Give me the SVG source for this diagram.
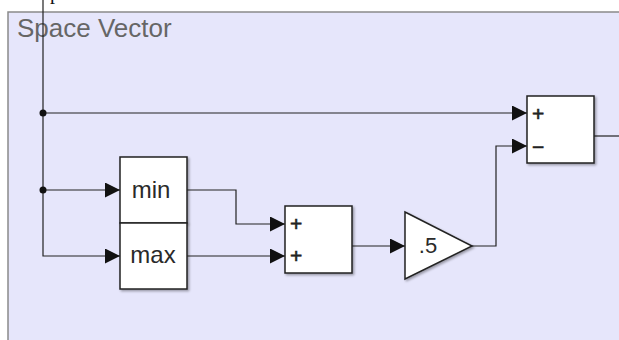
<svg xmlns="http://www.w3.org/2000/svg" width="619" height="340" viewBox="0 0 619 340">
<defs>
<style>
.blk{fill:#fff;stroke:#222;stroke-width:1.5;filter:url(#sh)}
.ln{fill:none;stroke:#222;stroke-width:1.2}
.lbl{font-family:"Liberation Sans",Arial,sans-serif;fill:#2a2a2a}
.sgn{font-family:"Liberation Sans",Arial,sans-serif;fill:#222;stroke:#222;stroke-width:0.6;font-size:21px}
</style>
<filter id="sh" x="-20%" y="-20%" width="150%" height="150%">
<feDropShadow dx="1.5" dy="1.5" stdDeviation="1.2" flood-color="#000" flood-opacity="0.35"/>
</filter>
<marker id="ar" viewBox="0 0 10 10" refX="10" refY="5" markerWidth="15" markerHeight="15" markerUnits="userSpaceOnUse" orient="auto">
<path d="M0,0 L10,5 L0,10 z" fill="#111"/>
</marker>
</defs>
<rect width="619" height="340" fill="#fff"/>
<g id="subsystem">
<rect x="8" y="12" width="625" height="340" fill="#e6e6fb" stroke="#8a8a8a" stroke-width="1.5"/>
<text x="17" y="37" font-family="'Liberation Sans',Arial,sans-serif" font-size="26" fill="#666">Space Vector</text>
</g>
<text x="50" y="-1" font-family="'Liberation Serif',serif" font-size="20" fill="#111">p</text>
<g id="connectors">
<path class="ln" d="M43,0 V256 H120" marker-end="url(#ar)"/>
<path class="ln" d="M43,113 H527" marker-end="url(#ar)"/>
<path class="ln" d="M43,190 H120" marker-end="url(#ar)"/>
<path class="ln" d="M187,190 H236 V224 H285" marker-end="url(#ar)"/>
<path class="ln" d="M187,256 H285" marker-end="url(#ar)"/>
<path class="ln" d="M352,246 H405" marker-end="url(#ar)"/>
<path class="ln" d="M472,246 H496 V146 H527" marker-end="url(#ar)"/>
<path class="ln" d="M594,136 H619"/>
<circle cx="43" cy="113" r="3.5" fill="#111"/>
<circle cx="43" cy="190" r="3.5" fill="#111"/>
</g>
<g id="min">
<rect class="blk" x="120" y="157" width="67" height="66"/>
<text class="lbl" x="151" y="198" font-size="24" text-anchor="middle">min</text>
</g>
<g id="max">
<rect class="blk" x="120" y="223" width="67" height="66"/>
<text class="lbl" x="153" y="263" font-size="24" text-anchor="middle">max</text>
</g>
<g id="sum1">
<rect class="blk" x="285" y="206" width="67" height="67"/>
<text class="sgn" x="290" y="231">+</text>
<text class="sgn" x="290" y="263">+</text>
</g>
<g id="gain">
<polygon class="blk" points="405,212 472,246 405,279"/>
<text class="lbl" x="428" y="253" font-size="22" text-anchor="middle">.5</text>
</g>
<g id="sum2">
<rect class="blk" x="527" y="96" width="67" height="67"/>
<text class="sgn" x="532" y="121">+</text>
<text class="sgn" x="532" y="154">−</text>
</g>
</svg>
